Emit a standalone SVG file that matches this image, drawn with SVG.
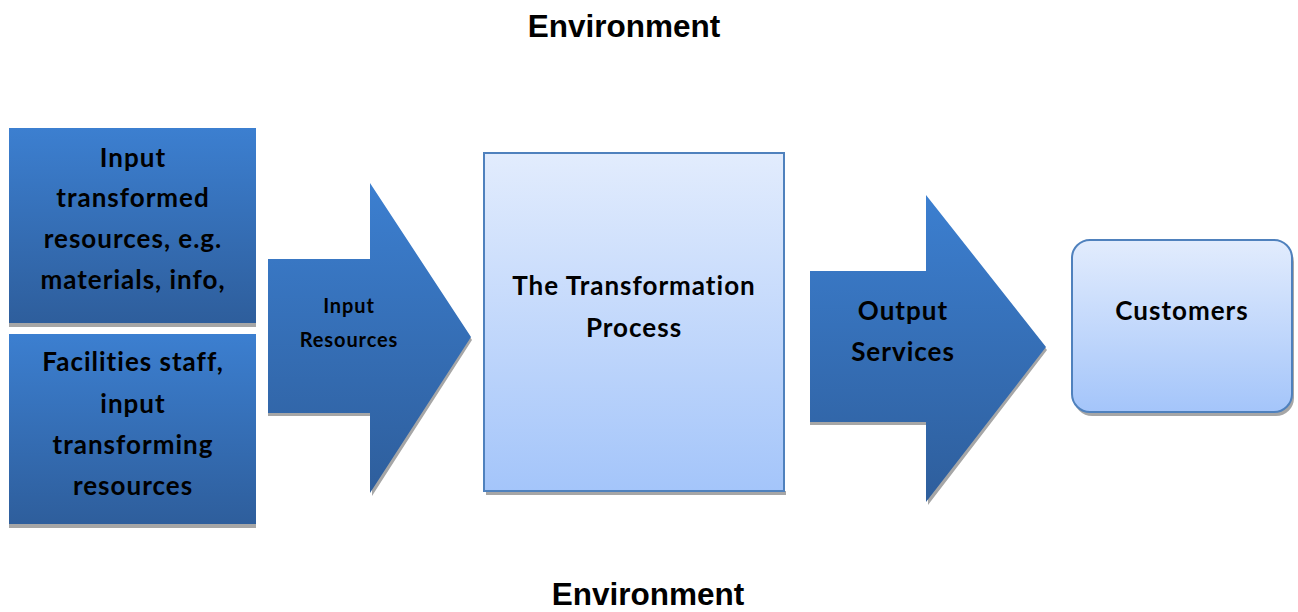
<svg xmlns="http://www.w3.org/2000/svg" width="1298" height="612" viewBox="0 0 1298 612">
  <defs>
    <linearGradient id="blueFill" x1="0" y1="0" x2="0" y2="1">
      <stop offset="0" stop-color="#3c7fd0"/>
      <stop offset="1" stop-color="#2e5e9c"/>
    </linearGradient>
    <linearGradient id="paleFill" x1="0" y1="0" x2="0" y2="1">
      <stop offset="0" stop-color="#e2ecfd"/>
      <stop offset="1" stop-color="#a4c5fa"/>
    </linearGradient>
    <clipPath id="clipBox1">
      <rect x="9" y="128" width="247" height="195"/>
    </clipPath>
  </defs>
  <style>
    .title { font-family: "Liberation Sans", Arial, sans-serif; font-weight: bold; font-size: 31.5px; fill: #000; text-anchor: middle; }
    .lbl { font-family: Lato, "Open Sans", sans-serif; font-weight: bold; fill: #000; text-anchor: middle; }
    .big { font-size: 26px; letter-spacing: 1px; }
    .small { font-size: 20px; letter-spacing: 0.9px; }
    .shadow { fill: #a6a6a6; }
    .blue { fill: url(#blueFill); }
    .pale { fill: url(#paleFill); stroke: #4f81bd; stroke-width: 2; }
  </style>

  <rect width="1298" height="612" fill="#ffffff"/>

  <text class="title" x="624" y="37">Environment</text>
  <text class="title" x="648" y="605">Environment</text>

  <!-- transformed resources -->
  <g id="input-transformed">
    <rect class="shadow" x="9" y="323" width="247" height="4"/>
    <rect class="blue" x="9" y="128" width="247" height="195"/>
    <g clip-path="url(#clipBox1)">
      <text class="lbl big" x="133" y="167">Input</text>
      <text class="lbl big" x="133" y="207">transformed</text>
      <text class="lbl big" x="133" y="248">resources, e.g.</text>
      <text class="lbl big" x="133" y="289">materials, info,</text>
    </g>
  </g>

  <!-- transforming resources -->
  <g id="input-transforming">
    <rect class="shadow" x="9" y="524" width="247" height="4"/>
    <rect class="blue" x="9" y="334" width="247" height="190"/>
    <text class="lbl big" x="133" y="371">Facilities staff,</text>
    <text class="lbl big" x="133" y="413">input</text>
    <text class="lbl big" x="133" y="454">transforming</text>
    <text class="lbl big" x="133" y="495">resources</text>
  </g>

  <g id="connectors">
    <!-- input arrow -->
    <g id="arrow-input">
      <polygon class="shadow" points="268,262 370,262 370,186 472,340 372,496 372,416 268,416"/>
      <polygon class="blue" points="268,259 370,259 370,183 471,337 370,493 370,413 268,413"/>
      <text class="lbl small" x="349" y="313">Input</text>
      <text class="lbl small" x="349" y="347">Resources</text>
    </g>
    <!-- output arrow -->
    <g id="arrow-output">
      <polygon class="shadow" points="810,274 926,274 926,198 1047,350 928,505 928,425 810,425"/>
      <polygon class="blue" points="810,271 926,271 926,195 1046,347 926,502 926,422 810,422"/>
      <text class="lbl big" x="903" y="320">Output</text>
      <text class="lbl big" x="903" y="361">Services</text>
    </g>
  </g>

  <!-- transformation process -->
  <g id="process">
    <rect class="shadow" x="486" y="491" width="300" height="4"/>
    <rect class="pale" x="484" y="153" width="300" height="338"/>
    <text class="lbl big" x="634" y="295">The Transformation</text>
    <text class="lbl big" x="634" y="337">Process</text>
  </g>

  <!-- customers -->
  <g id="customers">
    <rect class="shadow" x="1074" y="244" width="220" height="172" rx="18"/>
    <rect class="pale" x="1072" y="240" width="220" height="172" rx="18"/>
    <text class="lbl big" x="1182" y="320">Customers</text>
  </g>
</svg>
